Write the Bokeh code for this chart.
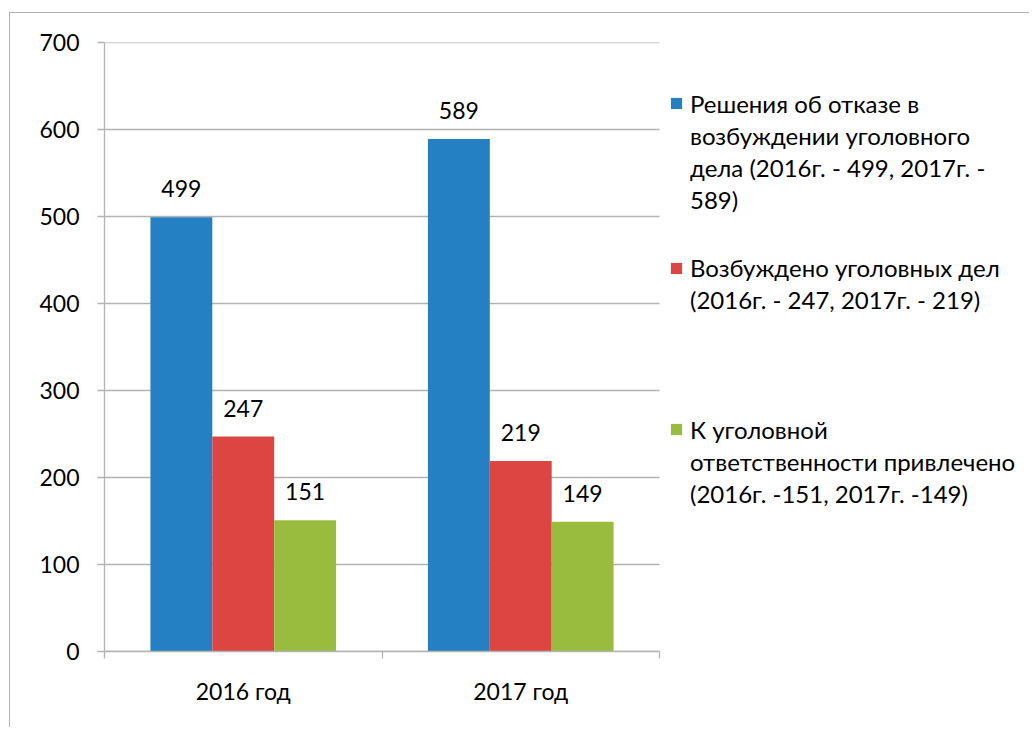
from bokeh.plotting import figure
from bokeh.models import ColumnDataSource, FixedTicker, LabelSet, Legend, LegendItem, Range1d
from bokeh.core.properties import value
from bokeh.embed import file_html
from bokeh.resources import INLINE

categories = ["2016 год", "2017 год"]
series_label_lines = [
    ["Решения об отказе в", "возбуждении уголовного", "дела (2016г. - 499, 2017г. -", "589)"],
    ["Возбуждено уголовных дел", "(2016г. - 247, 2017г. - 219)"],
    ["К уголовной", "ответственности привлечено", "(2016г. -151, 2017г. -149)"],
]
refusals = [499, 589]
initiated = [247, 219]
prosecuted = [151, 149]
y_ticks = [0, 100, 200, 300, 400, 500, 600, 700]

colors = ["#2480C3", "#DC4542", "#99BB3E"]
FONT = "Lato"
AXIS_FS = "23px"
LEG_FS = "24px"
GRID = "#b3b3b3"

# layout (pixels)
W, H = 1020, 715
LEFT, TOP, BOTTOM, RIGHT = 94, 29, 77, 5
BAR_AREA_PX = 555
frame_w = W - LEFT - RIGHT
n = len(categories)
x_end = n * frame_w / BAR_AREA_PX

p = figure(width=W, height=H, output_backend="svg", toolbar_location=None,
           x_range=Range1d(0, x_end), y_range=Range1d(0, 700),
           min_border_left=LEFT, min_border_right=RIGHT, min_border_top=TOP, min_border_bottom=BOTTOM)
p.margin = (12, 0, 0, 9)
p.styles = {"border-left": "1px solid #b3b3b3", "border-top": "1px solid #b3b3b3"}
p.outline_line_color = None
p.background_fill_color = "white"

p.xgrid.grid_line_color = None
p.ygrid.grid_line_color = None
# horizontal gridlines limited to the bar area
p.segment(x0=[0] * len(y_ticks), x1=[n] * len(y_ticks), y0=y_ticks, y1=y_ticks,
          line_color=GRID, line_width=1.3)

# y axis
p.yaxis.ticker = FixedTicker(ticks=y_ticks)
p.yaxis.axis_line_color = GRID
p.yaxis.axis_line_width = 1.3
p.yaxis.major_tick_line_color = GRID
p.yaxis.major_tick_line_width = 1.3
p.yaxis.major_tick_in = 0
p.yaxis.major_tick_out = 7
p.yaxis.minor_tick_line_color = None
p.yaxis.major_label_standoff = 18
p.yaxis.major_label_text_font = FONT
p.yaxis.major_label_text_font_size = AXIS_FS
p.yaxis.major_label_text_color = "#000000"

# x axis: labels at centers, separator ticks at boundaries
centers = [i + 0.5 for i in range(n)]
bounds = [float(i) for i in range(n + 1)]
p.xaxis.ticker = FixedTicker(ticks=centers, minor_ticks=bounds)
p.xaxis.major_label_overrides = {c: lab for c, lab in zip(centers, categories)}
p.xaxis.bounds = (0, n)
p.xaxis.axis_line_color = GRID
p.xaxis.axis_line_width = 1.3
p.xaxis.major_tick_line_color = None
p.xaxis.major_tick_in = 0
p.xaxis.major_tick_out = 0
p.xaxis.minor_tick_line_color = GRID
p.xaxis.minor_tick_line_width = 1.3
p.xaxis.minor_tick_in = 0
p.xaxis.minor_tick_out = 7
p.xaxis.major_label_standoff = 18
p.xaxis.major_label_text_font = FONT
p.xaxis.major_label_text_font_size = AXIS_FS
p.xaxis.major_label_text_color = "#000000"

bar_w = 0.223
offsets = [-bar_w, 0.0, bar_w]
series = [refusals, initiated, prosecuted]
renderers = []
for vals, off, col in zip(series, offsets, colors):
    src = ColumnDataSource(dict(x=[c + off for c in centers], top=vals,
                                lab=[str(v) for v in vals]))
    r = p.vbar(x="x", top="top", width=bar_w, bottom=0, source=src,
               fill_color=col, line_color=None)
    renderers.append(r)
    p.add_layout(LabelSet(x="x", y="top", text="lab", source=src, y_offset=20,
                          text_align="center", text_baseline="alphabetic",
                          text_font=value(FONT), text_font_size=value(AXIS_FS),
                          text_color="#000000"))

# invisible renderer used for continuation lines of the legend labels
blank = p.vbar(x=[], top=[], width=0.1, fill_alpha=0, line_alpha=0)

leg_locs = [(565, 436), (565, 335.5), (565, 142)]
for r, lines, loc in zip(renderers, series_label_lines, leg_locs):
    items = [LegendItem(label=lines[0], renderers=[r])]
    items += [LegendItem(label=ln, renderers=[blank]) for ln in lines[1:]]
    lg = Legend(items=items, location=loc, orientation="vertical",
                border_line_color=None, background_fill_alpha=0, padding=0, margin=0,
                spacing=0, label_height=32, glyph_width=14, glyph_height=14,
                label_standoff=7, label_text_font=FONT, label_text_font_size=LEG_FS,
                label_text_color="#000000")
    p.add_layout(lg)

open("out.html", "w").write(file_html(p, INLINE))
